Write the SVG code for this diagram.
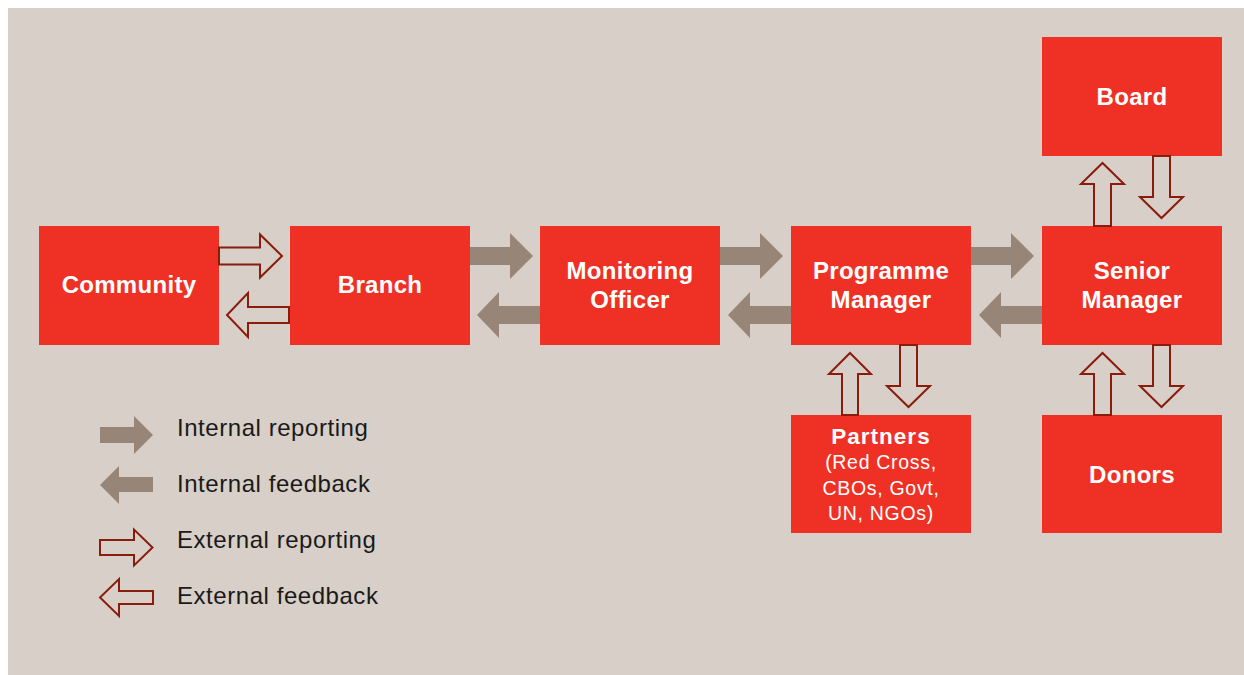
<svg xmlns="http://www.w3.org/2000/svg" width="1244" height="675" viewBox="0 0 1244 675">
<style>
.box{fill:#EF3125}
.t{font-family:"Liberation Sans",Arial,sans-serif;font-weight:bold;font-size:24px;letter-spacing:0.3px;fill:#fff;text-anchor:middle}
.s{font-family:"Liberation Sans",Arial,sans-serif;font-size:19.5px;letter-spacing:0.7px;fill:#fff;text-anchor:middle}
.leg{font-family:"Liberation Sans",Arial,sans-serif;font-size:24px;letter-spacing:0.55px;fill:#1a1a1a}
.int{fill:#978678}
.ext{fill:#D7CFC8;stroke:#8A1C0C;stroke-width:2;stroke-linejoin:miter}
</style>
<rect x="8" y="8" width="1236" height="667" fill="#D7CFC8"/>
<g id="community"><rect class="box" x="39" y="226" width="180" height="119"/><text class="t" x="129" y="293">Community</text></g>
<g id="branch"><rect class="box" x="290" y="226" width="180" height="119"/><text class="t" x="380" y="293">Branch</text></g>
<g id="monitoring-officer"><rect class="box" x="540" y="226" width="180" height="119"/><text class="t" x="630" y="279">Monitoring</text><text class="t" x="630" y="308">Officer</text></g>
<g id="programme-manager"><rect class="box" x="791" y="226" width="180" height="119"/><text class="t" x="881" y="279">Programme</text><text class="t" x="881" y="308">Manager</text></g>
<g id="senior-manager"><rect class="box" x="1042" y="226" width="180" height="119"/><text class="t" x="1132" y="279">Senior</text><text class="t" x="1132" y="308">Manager</text></g>
<g id="board"><rect class="box" x="1042" y="37" width="180" height="119"/><text class="t" x="1132" y="105">Board</text></g>
<g id="partners"><rect class="box" x="791" y="415" width="180" height="118"/><text class="t" x="881" y="444" style="font-size:22.5px;letter-spacing:1px">Partners</text><text class="s" x="881" y="469">(Red Cross,</text><text class="s" x="881" y="495">CBOs, Govt,</text><text class="s" x="881" y="520">UN, NGOs)</text></g>
<g id="donors"><rect class="box" x="1042" y="415" width="180" height="118"/><text class="t" x="1132" y="483">Donors</text></g>
<g id="connectors">
<polygon class="ext" points="219,247.5 260,247.5 260,234.5 282,256 260,277.5 260,264.5 219,264.5"/>
<polygon class="ext" points="289,307 248,307 248,293 227,315 248,337 248,323 289,323"/>
<polygon class="int" points="470,247 510,247 510,233 533,256 510,279 510,265 470,265"/>
<polygon class="int" points="540,306 499,306 499,292 477,315 499,338 499,324 540,324"/>
<polygon class="int" points="720,247 760,247 760,233 783,256 760,279 760,265 720,265"/>
<polygon class="int" points="791,306 750,306 750,292 728,315 750,338 750,324 791,324"/>
<polygon class="int" points="971,247 1011,247 1011,233 1034,256 1011,279 1011,265 971,265"/>
<polygon class="int" points="1042,306 1001,306 1001,292 979,315 1001,338 1001,324 1042,324"/>
<polygon class="ext" points="1094,226 1094,184 1081,184 1102.5,163 1124,184 1111,184 1111,226"/>
<polygon class="ext" points="1153,156 1153,197 1140,197 1161.5,218 1183,197 1170,197 1170,156"/>
<polygon class="ext" points="842,415 842,374 829,374 850,353 871,374 858,374 858,415"/>
<polygon class="ext" points="900,345 900,386 887,386 908.5,407 930,386 917,386 917,345"/>
<polygon class="ext" points="1094,415 1094,374 1081,374 1102.5,353 1124,374 1111,374 1111,415"/>
<polygon class="ext" points="1153,345 1153,386 1140,386 1161.5,407 1183,386 1170,386 1170,345"/>
</g>
<g id="legend">
<polygon class="int" points="100,427 134,427 134,416 153,435 134,454 134,443 100,443"/>
<text class="leg" x="177" y="436">Internal reporting</text>
<polygon class="int" points="153,477 119,477 119,466 100,485 119,504 119,492 153,492"/>
<text class="leg" x="177" y="492">Internal feedback</text>
<polygon class="ext" points="100,540 134,540 134,529.5 152.5,547.5 134,565.5 134,555 100,555"/>
<text class="leg" x="177" y="548">External reporting</text>
<polygon class="ext" points="153,591 119,591 119,579 100,597.5 119,616 119,604 153,604"/>
<text class="leg" x="177" y="604">External feedback</text>
</g>
</svg>
